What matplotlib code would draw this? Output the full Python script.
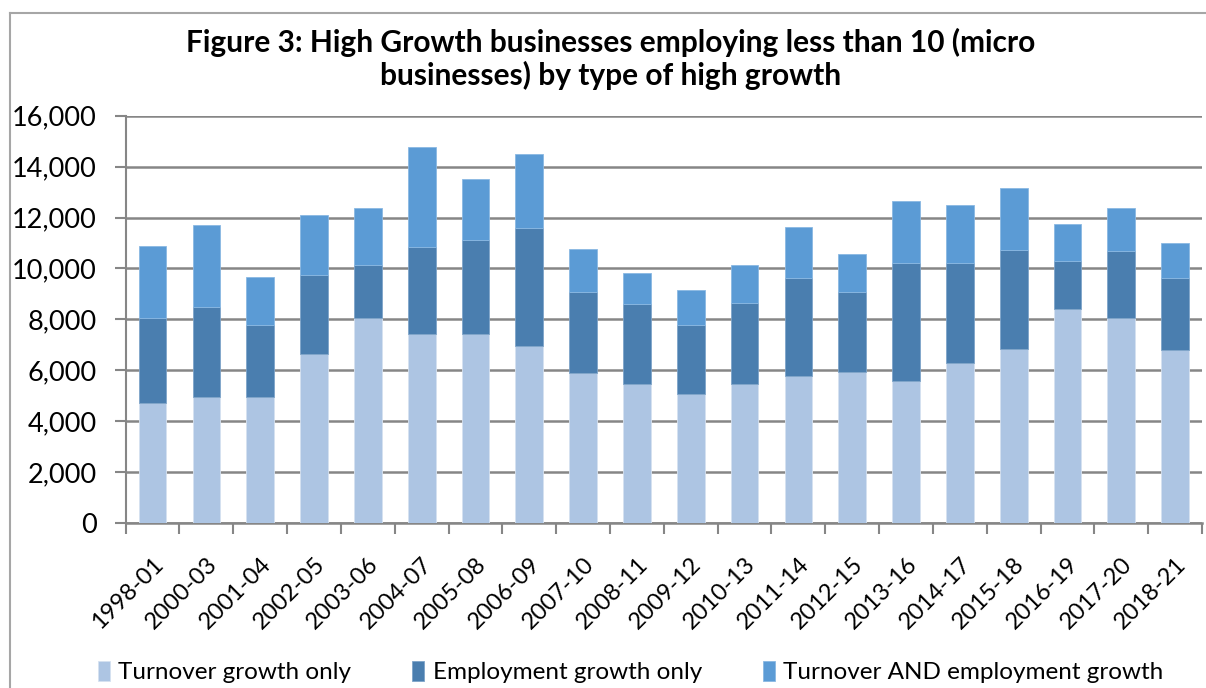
import matplotlib.pyplot as plt
import numpy as np
from matplotlib.lines import Line2D

plt.rcParams['font.family'] = ['Lato', 'DejaVu Sans']

periods = ['1998-01', '2000-03', '2001-04', '2002-05', '2003-06', '2004-07', '2005-08',
           '2006-09', '2007-10', '2008-11', '2009-12', '2010-13', '2011-14', '2012-15',
           '2013-16', '2014-17', '2015-18', '2016-19', '2017-20', '2018-21']

# values
turnover_only = [4710, 4960, 4960, 6650, 8060, 7440, 7420, 6960, 5910, 5470,
                 5090, 5480, 5770, 5930, 5590, 6280, 6830, 8410, 8050, 6800]
employment_only = [3360, 3520, 2840, 3090, 2070, 3390, 3710, 4620, 3160, 3130,
                   2710, 3160, 3870, 3140, 4620, 3950, 3910, 1900, 2650, 2820]
both_growth = [2830, 3230, 1870, 2370, 2260, 3930, 2400, 2920, 1690, 1240,
               1360, 1500, 1980, 1490, 2450, 2260, 2400, 1430, 1690, 1370]

c_turn = '#adc5e3'
c_emp = '#4a7eaf'
c_both = '#5b9bd5'
grid_c = '#868686'

fig = plt.figure(figsize=(12.06, 6.88), dpi=100)
ax = fig.add_axes([0.1042, 0.2394, 0.8925, 0.5926])

x = np.arange(len(periods))
w = 0.515
b1 = np.array(turnover_only)
b2 = b1 + np.array(employment_only)

ax.bar(x, turnover_only, w, color=c_turn, edgecolor='#d6e2f1', linewidth=0.6, label='Turnover growth only', zorder=3)
ax.bar(x, employment_only, w, bottom=b1, color=c_emp, edgecolor='#7ea4c9', linewidth=0.6, label='Employment growth only', zorder=3)
ax.bar(x, both_growth, w, bottom=b2, color=c_both, edgecolor='#8ab8e3', linewidth=0.6, label='Turnover AND employment growth', zorder=3)

ax.set_xlim(-0.5, len(periods) - 0.5)
ax.set_ylim(0, 16000)
ax.set_yticks(np.arange(0, 16001, 2000))
ax.set_yticklabels([f'{v:,}' for v in range(0, 16001, 2000)], fontsize=19.5)
ax.yaxis.grid(True, color=grid_c, linewidth=1.8, zorder=0)
ax.set_axisbelow(True)

ax.set_xticks(x)
ax.set_xticklabels(periods, rotation=45, ha='right', rotation_mode='anchor', fontsize=17)
ax.set_xticks(np.arange(-0.5, len(periods), 1), minor=True)
ax.tick_params(axis='x', which='major', length=0, pad=22)
ax.tick_params(axis='x', which='minor', length=8, width=1.5, color=grid_c)
ax.tick_params(axis='y', length=8, width=1.5, color=grid_c, pad=13)

for s in ['top', 'right']:
    ax.spines[s].set_visible(False)
ax.spines['left'].set_color(grid_c)
ax.spines['left'].set_linewidth(1.5)
ax.spines['bottom'].set_color(grid_c)
ax.spines['bottom'].set_linewidth(1.8)

fig.text(0.506, 1 - 59 / 688, 'Figure 3: High Growth businesses employing less than 10 (micro\nbusinesses) by type of high growth',
         ha='center', va='center', fontsize=21.5, fontweight='bold', linespacing=1.15)

fig.legend(loc='center', bbox_to_anchor=(0.523, 1 - 672 / 688), ncol=3, frameon=False,
           fontsize=17.5, handlelength=0.5, handleheight=0.9, handletextpad=0.35, columnspacing=2.5)

# outer chart frame (left and top edges only are in view)
fx = 10 / 1206
fy = 1 - 12.5 / 688
fig.add_artist(Line2D([fx, fx], [0, fy], transform=fig.transFigure, color='#a6a6a6', linewidth=1.5))
fig.add_artist(Line2D([fx, 1], [fy, fy], transform=fig.transFigure, color='#a6a6a6', linewidth=1.5))

fig.savefig('out.png', dpi=100)
